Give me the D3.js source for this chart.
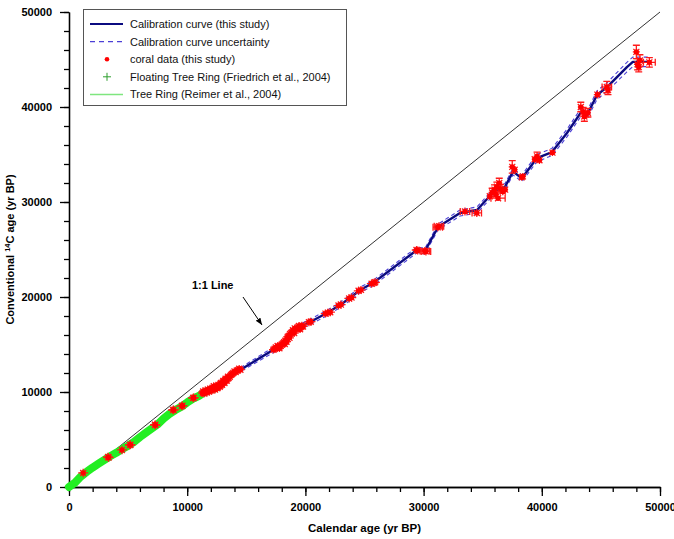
<!DOCTYPE html>
<html>
<head>
<meta charset="utf-8">
<script src="https://cdn.jsdelivr.net/npm/d3@7"></script>
<style>
body { margin: 0; background: #fff; }
svg { display: block; font-family: Arial, "Liberation Sans", sans-serif; }
</style>
</head>
<body>
<div id="chart"></div>
<script>
// calibration curve nodes: [cal age, 14C age, 1 sigma]
var curve = [
	[0,0,60],[1200,1450,60],[3300,3150,80],[4500,3920,80],[5200,4430,80],[7300,6540,100],
	[8800,8110,100],[9560,8530,100],[10500,9380,120],[11340,9900,120],[12000,10220,140],[12500,10520,140],
	[13000,10980,160],[13500,11500,160],[14000,12000,180],[14470,12320,200],[17260,14420,280],[17800,14700,280],
	[18500,15700,280],[19000,16350,280],[19550,16850,280],[20390,17370,280],[21830,18320,280],[22930,19160,280],
	[23770,19900,280],[24620,20740,280],[25720,21470,280],[29440,24950,300],[30120,24840,300],[31220,27370,300],
	[33080,28840,320],[34520,29160,320],[35870,31000,350],[36890,31600,350],[37560,33200,350],[38320,32500,350],
	[39590,34630,380],[40860,35260,380],[42130,37260,400],[43400,39600,420],[43910,39370,420],[44670,41260,450],
	[45520,42100,450],[47200,44200,500],[47700,44750,500],[49150,44750,500]
];

// coral data: [cal age, 14C age, cal err, 14C err]
var coral = [
	[1200,1480,420,450],[3300,3160,420,450],[3350,3100,420,450],[4480,3900,420,450],[5150,4420,420,450],
	[5200,4450,420,450],[7280,6520,420,450],[7300,6560,420,450],[8800,8100,420,450],[8850,8130,420,450],
	[9550,8520,420,450],[9600,8560,420,450],[10500,9370,420,450],[10550,9400,420,450],
	[11300,9880,380,400],[11350,10050,380,400],[11400,9950,380,400],[11450,9850,380,400],[11500,10000,380,400],
	[11550,10150,380,400],[11600,10080,380,400],[11650,9950,380,400],[11700,10100,380,400],[11750,10250,380,400],
	[11800,10180,380,400],[11850,10050,380,400],[11900,10150,380,400],[11950,10350,380,400],[12000,10250,380,400],
	[12050,10150,380,400],[12100,10300,380,400],[12150,10450,380,400],[12200,10350,380,400],[12250,10600,380,400],
	[12300,10400,380,400],[12350,10250,380,400],[12400,10500,380,400],[12450,10650,380,400],[12500,10550,380,400],
	[12550,10400,380,400],[12600,10500,380,400],[12650,10750,380,400],[12700,10700,380,400],[12750,10550,380,400],
	[12800,10650,380,400],[12800,10800,380,400],[12850,10950,380,400],[12900,10850,380,400],[12950,10750,380,400],
	[13000,11000,380,400],[13050,11150,380,400],[13100,11100,380,400],[13150,10950,380,400],[13200,11250,380,400],
	[13250,11400,380,400],[13300,11300,380,400],[13350,11200,380,400],[13400,11400,380,400],[13450,11600,380,400],
	[13500,11500,380,400],[13600,11600,380,400],[13700,11800,380,400],[13800,11900,380,400],[13900,12000,380,400],
	[14000,12150,380,400],[14100,12100,380,400],[14200,12250,380,400],[14300,12300,380,400],[14400,12450,380,400],
	[14500,12350,380,400],
	[17300,14450,380,400],[17400,14550,380,400],[17500,14700,380,400],[17600,14600,380,400],[17650,14850,380,400],
	[17700,14750,380,400],[17800,14600,380,400],[17850,14800,380,400],[17900,14900,380,400],[18000,15000,380,400],
	[18100,15100,380,400],[18200,15250,380,400],[18250,15050,380,400],[18300,15400,380,400],[18400,15300,380,400],
	[18450,15550,380,400],[18500,15800,380,400],[18600,15900,380,400],[18650,15700,380,400],[18700,16100,380,400],
	[18800,16200,380,400],[18900,16300,380,400],[18950,16500,380,400],[19000,16400,380,400],[19050,16200,380,400],
	[19100,16700,380,400],[19200,16600,380,400],[19300,16700,380,400],[19400,16800,380,400],[19450,16950,380,400],
	[19500,16700,380,400],[19550,16600,380,400],[19600,16900,380,400],[19700,17000,380,400],[19800,16900,380,400],
	[20300,17350,400,420],[20450,17400,400,420],[21700,18250,400,420],[21900,18350,400,420],[22100,18400,400,420],
	[22800,19100,400,420],[23000,19200,400,420],[23700,19850,400,420],[23900,19950,400,420],[24500,20650,400,420],
	[24700,20750,400,420],[25600,21400,400,420],[25800,21500,400,420],[25900,21550,400,420],
	[29400,24950,400,420],[29500,24900,400,420],[30100,24850,400,420],[30200,24800,400,420],
	[31200,27350,400,420],[31300,27450,400,420],[33500,29000,400,420],[34500,28850,400,420],
	[35600,30600,250,400],[35800,31000,300,450],[36000,31300,250,500],[36100,30800,300,400],[36200,31600,250,500],
	[36300,30400,600,300],[36500,31400,300,450],[36700,31100,300,400],[36900,31300,250,400],[36400,32000,250,500],
	[37500,33700,300,650],[37700,33400,250,400],[38300,32600,250,350],[38400,32700,250,350],
	[39400,34500,250,400],[39600,34800,300,450],[39800,34400,250,400],[40900,35200,300,350],
	[43300,40000,250,500],[43500,39500,300,450],[43700,39200,300,400],[43900,39400,250,450],[43600,39000,250,500],
	[44700,41300,300,400],[45500,42100,400,600],[45600,41800,300,500],
	[48000,45800,300,700],[48100,44500,300,600],[48200,44200,300,500],[48300,44900,300,600],[49100,44700,500,500]
];

// tree ring (Reimer et al., 2004): [cal age, 14C age]
var treeRing = [
	[0,0],[500,450],[1000,1100],[1500,1600],[2000,2050],[2500,2450],[3000,2850],[3500,3250],[4000,3600],
	[4500,4000],[5000,4350],[5500,4750],[6000,5250],[6500,5700],[7000,6150],[7500,6600],[8000,7200],
	[8500,7700],[9000,8100],[9500,8450],[10000,8900],[10500,9300],[11000,9600],[11500,10000],[12000,10250],[12400,10400]
];

// floating tree ring (Friedrich et al., 2004)
var floating = [[12450,10480],[12650,10620],[12900,10900],[13150,11150],[13400,11420],[13650,11700],[13850,11950]];

var xTicks = [0,10000,20000,30000,40000,50000];
var yTicks = [0,10000,20000,30000,40000,50000];
var legendItems = ["Calibration curve (this study)","Calibration curve uncertainty","coral data (this study)",
	"Floating Tree Ring (Friedrich et al., 2004)","Tree Ring (Reimer et al., 2004)"];

var width = 674, height = 539;
var svg = d3.select("#chart").append("svg").attr("width", width).attr("height", height);

var x = d3.scaleLinear().domain([0,50000]).range([69,660]);
var y = d3.scaleLinear().domain([0,50000]).range([487,12]);
var minor = d3.range(0,50001,2000);

// axes
svg.append("g").attr("transform","translate(0,487)")
	.call(d3.axisBottom(x).tickValues(minor).tickSize(5).tickSizeOuter(0).tickFormat(""));
svg.append("g").attr("transform","translate(0,487)")
	.call(d3.axisBottom(x).tickValues(xTicks).tickSize(9).tickSizeOuter(0).tickPadding(7).tickFormat(d3.format("d")));
svg.append("g").attr("transform","translate(69,0)")
	.call(d3.axisLeft(y).tickValues(minor).tickSize(5).tickSizeOuter(0).tickFormat(""));
svg.append("g").attr("transform","translate(69,0)")
	.call(d3.axisLeft(y).tickValues(yTicks).tickSize(9).tickSizeOuter(0).tickPadding(8).tickFormat(d3.format("d")));
svg.selectAll(".domain, .tick line").attr("stroke","#000").attr("stroke-width",1.3);
svg.selectAll(".tick text").attr("font-size","11px").attr("font-weight","bold").attr("fill","#000")
	.attr("font-family","Arial, 'Liberation Sans', sans-serif");

svg.append("text").attr("x",364.5).attr("y",532).attr("text-anchor","middle")
	.attr("font-size","11.5px").attr("font-weight","bold").text("Calendar age (yr BP)");
var yl = svg.append("text").attr("transform","translate(14,249.5) rotate(-90)").attr("text-anchor","middle")
	.attr("font-size","11px").attr("font-weight","bold");
yl.append("tspan").text("Conventional ");
yl.append("tspan").attr("font-size","7.5px").attr("dy","-4").text("14");
yl.append("tspan").attr("dy","4").text("C age (yr BP)");

// 1:1 line
svg.append("line").attr("x1",x(0)).attr("y1",y(0)).attr("x2",x(50000)).attr("y2",y(50000))
	.attr("stroke","#333").attr("stroke-width",1);

var line = d3.line().x(function(d){return x(d[0]);}).y(function(d){return y(d[1]);});

// uncertainty band edges
svg.append("path").datum(curve.map(function(d){return [d[0], d[1]+d[2]];}))
	.attr("d",line).attr("fill","none").attr("stroke","#4b3fd6").attr("stroke-width",1.1).attr("stroke-dasharray","4,3");
svg.append("path").datum(curve.map(function(d){return [d[0], d[1]-d[2]];}))
	.attr("d",line).attr("fill","none").attr("stroke","#4b3fd6").attr("stroke-width",1.1).attr("stroke-dasharray","4,3");

svg.append("path").datum(curve).attr("d",line).attr("fill","none")
	.attr("stroke","#0b0b80").attr("stroke-width",2.4).attr("stroke-linejoin","round");

// tree ring band
svg.append("path").datum(treeRing).attr("d",line).attr("fill","none")
	.attr("stroke","#22ee22").attr("stroke-width",8).attr("stroke-linecap","round").attr("stroke-linejoin","round");

svg.selectAll(".fl").data(floating).enter().append("path").attr("class","fl")
	.attr("d",function(d){var cx=x(d[0]),cy=y(d[1]);return "M"+(cx-4)+","+cy+"H"+(cx+4)+"M"+cx+","+(cy-4)+"V"+(cy+4);})
	.attr("stroke","#2e9e2e").attr("stroke-width",1);

// coral data with error bars (caps only on the wider bars)
var eb = svg.append("g").attr("stroke","#ff1a1a").attr("stroke-width",1.3).attr("fill","none");
coral.forEach(function(d){
	var cx=x(d[0]), cy=y(d[1]);
	var x0=x(d[0]-d[2]), x1=x(d[0]+d[2]), y0=y(d[1]-d[3]), y1=y(d[1]+d[3]);
	var p = "M"+x0+","+cy+"H"+x1+"M"+cx+","+y0+"V"+y1;
	p += "M"+(cx-3)+","+(cy-3)+"L"+(cx+3)+","+(cy+3)+"M"+(cx-3)+","+(cy+3)+"L"+(cx+3)+","+(cy-3);
	if (d[3] >= 450 && d[0] > 30000) p += "M"+(cx-3.5)+","+y0+"H"+(cx+3.5)+"M"+(cx-3.5)+","+y1+"H"+(cx+3.5);
	if (d[2] >= 400 && d[0] > 30000) p += "M"+x0+","+(cy-3.5)+"V"+(cy+3.5)+"M"+x1+","+(cy-3.5)+"V"+(cy+3.5);
	eb.append("path").attr("d",p);
});
svg.selectAll(".coral").data(coral).enter().append("circle").attr("class","coral")
	.attr("cx",function(d){return x(d[0]);}).attr("cy",function(d){return y(d[1]);})
	.attr("r",2.6).attr("fill","#ff0000");

// 1:1 annotation
svg.append("defs").append("marker").attr("id","arr").attr("viewBox","0 0 10 10").attr("refX",10).attr("refY",5)
	.attr("markerWidth",7).attr("markerHeight",7).attr("orient","auto")
	.append("path").attr("d","M0,1L10,5L0,9Z").attr("fill","#000");
svg.append("text").attr("x",x(10400)).attr("y",y(20800)).attr("font-size","11px").attr("font-weight","bold").text("1:1 Line");
svg.append("line").attr("x1",x(14720)).attr("y1",y(20000)).attr("x2",x(16330)).attr("y2",y(17050))
	.attr("stroke","#000").attr("stroke-width",1).attr("marker-end","url(#arr)");

// legend
var lg = svg.append("g");
lg.append("rect").attr("x",83.5).attr("y",9.5).attr("width",263).attr("height",96)
	.attr("fill","#fff").attr("stroke","#555").attr("stroke-width",1);
var rows = lg.selectAll(".row").data(legendItems).enter().append("g").attr("class","row")
	.attr("transform",function(d,i){return "translate(0,"+(24+i*17.6)+")";});
rows.append("text").attr("x",130).attr("y",4).attr("font-size","11px").attr("fill","#111").text(function(d){return d;});
lg.append("line").attr("x1",90).attr("x2",123).attr("y1",24).attr("y2",24).attr("stroke","#0b0b80").attr("stroke-width",2);
lg.append("line").attr("x1",90).attr("x2",123).attr("y1",41.6).attr("y2",41.6).attr("stroke","#4b3fd6")
	.attr("stroke-width",1.2).attr("stroke-dasharray","5,4");
lg.append("circle").attr("cx",107).attr("cy",59.2).attr("r",2.3).attr("fill","#ff0000");
lg.append("path").attr("d","M103,76.8H111M107,72.8V80.8").attr("stroke","#2e9e2e").attr("stroke-width",1);
lg.append("line").attr("x1",90).attr("x2",123).attr("y1",94.4).attr("y2",94.4).attr("stroke","#7fe67f").attr("stroke-width",1.5);
</script>
</body>
</html>
